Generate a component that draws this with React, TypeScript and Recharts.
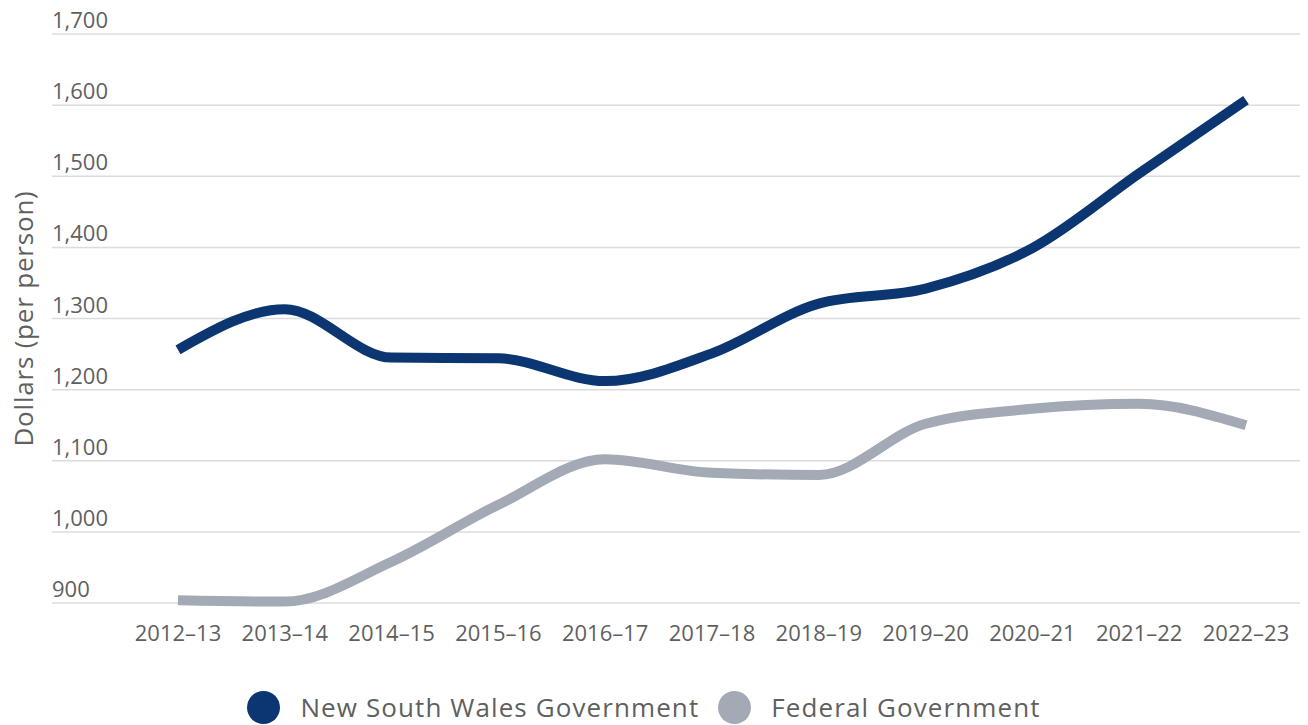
import React from "react";
import { CartesianGrid, Label, Legend, Line, LineChart, XAxis, YAxis } from "recharts";

const years = [
  "2012–13",
  "2013–14",
  "2014–15",
  "2015–16",
  "2016–17",
  "2017–18",
  "2018–19",
  "2019–20",
  "2020–21",
  "2021–22",
  "2022–23",
];
const nswGovernment = [1256, 1313, 1245, 1244, 1212, 1251, 1321, 1342, 1399, 1504, 1607];
const federalGovernment = [904, 902, 958, 1038, 1102, 1083, 1080, 1152, 1173, 1180, 1150];
const yTicks = [900, 1000, 1100, 1200, 1300, 1400, 1500, 1600, 1700];

const NSW_COLOR = "#0b3671";
const FED_COLOR = "#a3aab5";
const TEXT = "#5f5f5f";
const FONT = "'Open Sans', sans-serif";

const data = years.map((year, i) => ({
  year,
  nsw: nswGovernment[i],
  federal: federalGovernment[i],
}));

function YTick(props: any) {
  const { y, payload } = props;
  return (
    <text x={52} y={y - 6} fill={TEXT} fontSize={22} fontFamily={FONT} textAnchor="start">
      {Number(payload.value).toLocaleString("en-US")}
    </text>
  );
}

function LegendContent() {
  const items = [
    { name: "New South Wales Government", color: NSW_COLOR },
    { name: "Federal Government", color: FED_COLOR },
  ];
  return (
    <div style={{ display: "flex", justifyContent: "center", gap: 19, fontFamily: FONT, paddingRight: 12 }}>
      {items.map((item) => (
        <div key={item.name} style={{ display: "flex", alignItems: "center" }}>
          <span
            style={{
              width: 33,
              height: 33,
              borderRadius: "50%",
              background: item.color,
              display: "inline-block",
              marginRight: 20,
            }}
          />
          <span style={{ fontSize: 26, color: TEXT, letterSpacing: 1.1 }}>{item.name}</span>
        </div>
      ))}
    </div>
  );
}

export default function App() {
  return (
    <div style={{ position: "relative", top: -8, left: -8, width: 1308, height: 725, background: "#fff" }}>
      <LineChart width={1308} height={725} data={data} margin={{ top: 34, right: 8, bottom: 0, left: 0 }}>
        <CartesianGrid vertical={false} stroke="#dcdcdc" strokeWidth={1.5} />
        <XAxis
          dataKey="year"
          axisLine={false}
          tickLine={false}
          padding={{ left: 126, right: 54 }}
          tick={{ fill: TEXT, fontSize: 22, fontFamily: FONT }}
          tickMargin={16}
          height={86}
          interval={0}
        />
        <YAxis
          width={52}
          domain={[900, 1700]}
          ticks={yTicks}
          axisLine={false}
          tickLine={false}
          tick={(p: any) => <YTick {...p} />}
        >
          <Label
            content={(p: any) => {
              const vb = p.viewBox || {};
              const cx = 23;
              const cy = (vb.y ?? 34) + (vb.height ?? 570) / 2;
              return (
                <text
                  x={cx}
                  y={cy}
                  transform={`rotate(-90, ${cx}, ${cy})`}
                  textAnchor="middle"
                  dominantBaseline="central"
                  fill={TEXT}
                  fontSize={26}
                  letterSpacing={0.8}
                  fontFamily={FONT}
                >
                  Dollars (per person)
                </text>
              );
            }}
          />
        </YAxis>
        <Legend verticalAlign="bottom" content={<LegendContent />} />
        <Line
          type="monotone"
          dataKey="nsw"
          name="New South Wales Government"
          stroke={NSW_COLOR}
          strokeWidth={10}
          dot={false}
          activeDot={false}
          isAnimationActive={false}
        />
        <Line
          type="monotone"
          dataKey="federal"
          name="Federal Government"
          stroke={FED_COLOR}
          strokeWidth={10}
          dot={false}
          activeDot={false}
          isAnimationActive={false}
        />
      </LineChart>
    </div>
  );
}
